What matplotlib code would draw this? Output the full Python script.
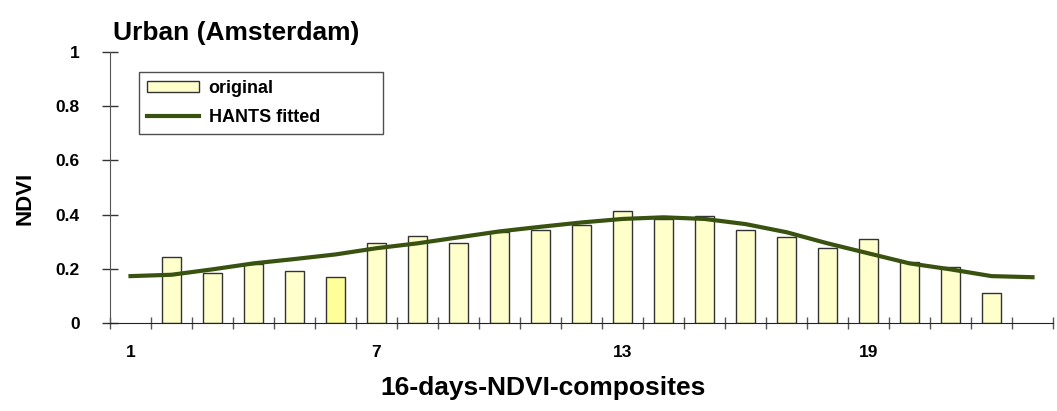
import matplotlib
matplotlib.use("Agg")
import matplotlib.pyplot as plt
from matplotlib.patches import Patch
from matplotlib.lines import Line2D

plt.rcParams['font.family'] = ['Liberation Sans', 'DejaVu Sans']
plt.rcParams['font.weight'] = 'bold'

# categories 1..23; bars at 2..22
bar_cats = list(range(2, 23))
original = [0.242, 0.186, 0.216, 0.191, 0.169, 0.294, 0.320, 0.294, 0.337, 0.342,
            0.360, 0.412, 0.384, 0.395, 0.342, 0.316, 0.276, 0.311, 0.226, 0.208, 0.111]
line_cats = list(range(1, 24))
hants = [0.173, 0.178, 0.198, 0.220, 0.236, 0.253, 0.276, 0.294, 0.316, 0.338, 0.355,
         0.371, 0.384, 0.390, 0.384, 0.365, 0.335, 0.294, 0.257, 0.220, 0.198, 0.173, 0.169]
xtick_labels = ['1', '7', '13', '19']
xtick_pos = [1, 7, 13, 19]

W, H = 1057, 411
fig = plt.figure(figsize=(W / 100, H / 100), dpi=100)
ax = fig.add_axes([110 / W, (H - 323) / H, 943 / W, 271 / H])

colors = ['#FFFFCC'] * len(original)
colors[4] = '#FFFF99'
ax.bar(bar_cats, original, width=0.46, color=colors, edgecolor='#333333', linewidth=1.0, zorder=2)
line_color = '#3A5210'
ax.plot(line_cats, hants, color=line_color, linewidth=3, zorder=3)

ax.set_xlim(0.5, 23.5)
ax.set_ylim(0, 1)
for s in ['top', 'right']:
    ax.spines[s].set_visible(False)
ax.spines['left'].set_color('#555555')
ax.spines['bottom'].set_color('#222222')

ax.set_yticks([0, 0.2, 0.4, 0.6, 0.8, 1.0])
ax.set_yticklabels(['0', '0.2', '0.4', '0.6', '0.8', '1'])
ax.tick_params(axis='y', direction='inout', length=11.5, width=1, color='#333333',
               pad=16, labelsize=12.5)
ax.set_xticks(xtick_pos)
ax.set_xticklabels(xtick_labels)
ax.set_xticks([i + 0.5 for i in range(0, 24)], minor=True)
ax.tick_params(axis='x', which='major', length=0, pad=16, labelsize=12.5)
ax.tick_params(axis='x', which='minor', direction='inout', length=8.6, width=1, color='#555555')
for lab in ax.get_xticklabels() + ax.get_yticklabels():
    lab.set_fontweight('bold')

fig.text(113 / W, 1 - 40 / H, 'Urban (Amsterdam)', fontsize=19, fontweight='bold',
         ha='left', va='baseline')
fig.text(25 / W, 1 - 198 / H, 'NDVI', fontsize=16, fontweight='bold', rotation=90,
         ha='center', va='center')
fig.text(543 / W, 1 - 395 / H, '16-days-NDVI-composites', fontsize=19, fontweight='bold',
         ha='center', va='baseline')

handles = [Patch(facecolor='#FFFFCC', edgecolor='#333333', linewidth=1.0),
           Line2D([0], [0], color=line_color, linewidth=3)]
leg = fig.legend(handles, ['original', 'HANTS fitted'], loc='upper left',
                 bbox_to_anchor=(139 / W, 1 - 136 / H, 244 / W, 64 / H), mode='expand',
                 borderaxespad=0, fancybox=False, frameon=True,
                 handlelength=2.9, handleheight=0.55, labelspacing=0.65, handletextpad=0.5,
                 borderpad=0.45, prop={'weight': 'bold', 'size': 13})
leg.get_frame().set_edgecolor('#222222')
leg.get_frame().set_linewidth(1.0)

fig.savefig('out.png', dpi=100)
